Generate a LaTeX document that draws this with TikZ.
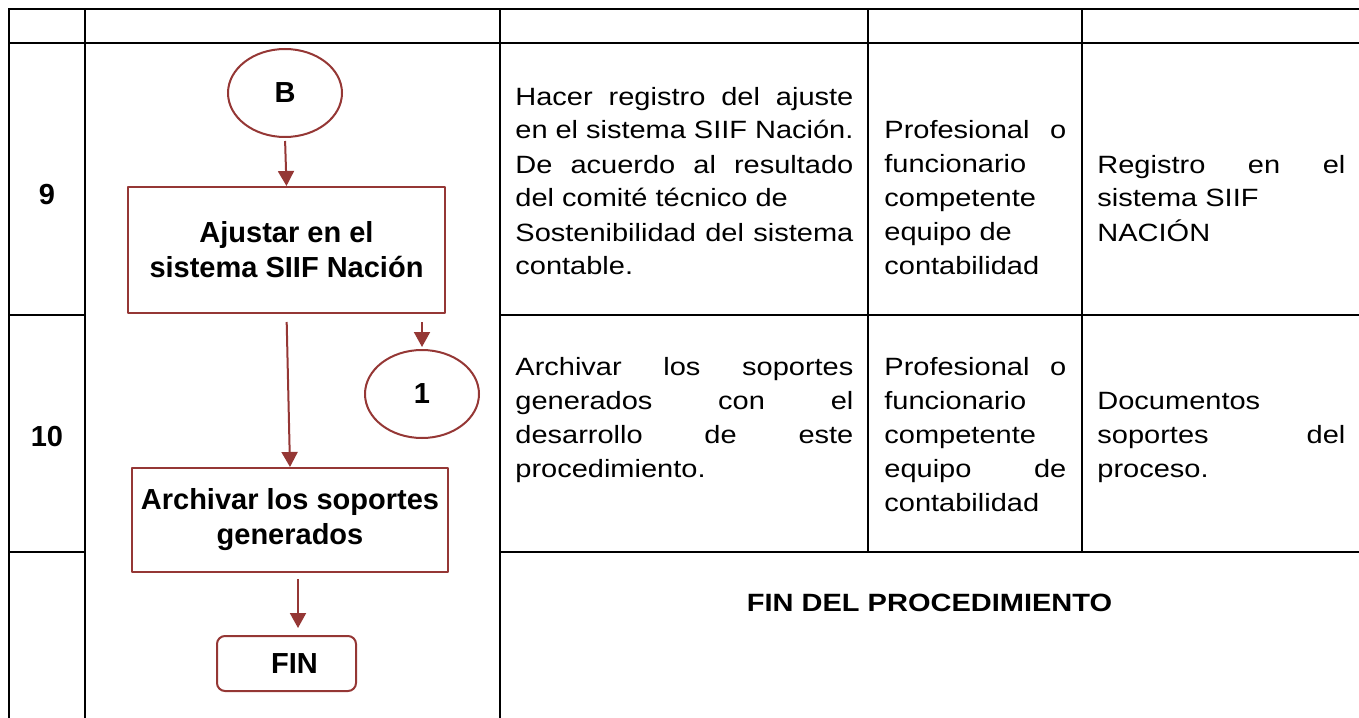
\documentclass[tikz,border=0pt]{standalone}
\usepackage{fontspec}
\setmainfont{Liberation Sans}
\newfontfamily\anchafont{Liberation Sans}[FakeStretch=1.16]
\usetikzlibrary{arrows.meta,shapes.geometric}
\definecolor{rojo}{RGB}{149,55,53}
\newcommand{\lj}[1]{{\spaceskip=0pt\xspaceskip=0pt\makebox[\linewidth][s]{#1}}}

\begin{document}
\begin{tikzpicture}[x=0.5pt, y=-0.5pt, line join=round, >={Triangle[width=8pt,length=7.5pt]},
	elipse/.style={ellipse, draw=rojo, line width=1pt, minimum width=57pt, minimum height=44pt, inner sep=0pt, font=\fontsize{14.5}{17.5}\selectfont\bfseries},
	caja/.style={rectangle, draw=rojo, line width=1pt, align=center, inner sep=0pt, font=\fontsize{14.5}{17.5}\selectfont\bfseries},
	flecha/.style={->, draw=rojo, line width=1pt},
	celda/.style={anchor=base west, inner sep=0pt, align=justify, font=\anchafont\fontsize{12.5}{17}\selectfont},
	numero/.style={font=\fontsize{14.5}{17.5}\selectfont\bfseries},
	linea/.style={line width=0.9pt, line cap=rect}]
		\useasboundingbox (0,0) rectangle (1359,717);
		% tabla
		\draw[linea] (9,9)--(1359,9) (9,43)--(1359,43) (9,315)--(85,315) (500,315)--(1359,315) (9,552)--(85,552) (500,552)--(1359,552);
		\foreach \x in {9,85,500} \draw[linea] (\x,9)--(\x,717);
		\foreach \x in {868,1082} \draw[linea] (\x,9)--(\x,552);
		\node[numero] (n9) at (47,195) {9};
		\node[numero] (n10) at (47,437) {10};
		% diagrama
		\node[elipse] (b) at (285,93) {B};
		\node[caja, minimum width=158.5pt, minimum height=63pt] (ajustar) at (286.5,250) {Ajustar en el\\sistema SIIF Nación};
		\node[elipse] (uno) at (422,394) {1};
		\node[caja, minimum width=158pt, minimum height=52pt] (archivar) at (290,520) {Archivar los soportes\\generados};
		\node[caja, rounded corners=4pt, minimum width=69.5pt, minimum height=27.5pt] (fin) at (286.5,663.5) {\hspace*{8pt}FIN};
		\draw[flecha, shorten <=1.5pt] (b.south)--(ajustar.north);
		\draw[flecha, shorten <=4pt] (ajustar.south)--(archivar.north);
		\draw[flecha, shorten <=4pt, shorten >=1pt] (ajustar.south -| uno.north)--(uno.north);
		\draw[flecha, shorten <=3pt, shorten >=3.5pt] ([xshift=4pt]archivar.south)--([xshift=5.75pt]fin.north);
		% textos
		\node[celda, text width=169pt] (act9) at (515,105) {\lj{Hacer registro del ajuste}\\\lj{en el sistema SIIF Nación.}\\\lj{De acuerdo al resultado}\\del comité técnico de\\\lj{Sostenibilidad del sistema}\\contable.};
		\node[celda, text width=91pt] (resp9) at (884,139) {\lj{Profesional o}\\funcionario\\competente\\equipo de\\contabilidad};
		\node[celda, text width=124pt] (reg9) at (1097,173) {\lj{Registro en el}\\sistema SIIF\\NACIÓN};
		\node[celda, text width=169pt] (act10) at (515,375) {\lj{Archivar los soportes}\\\lj{generados con el}\\\lj{desarrollo de este}\\procedimiento.};
		\node[celda, text width=91pt] (resp10) at (884,375) {\lj{Profesional o}\\funcionario\\competente\\\lj{equipo de}\\contabilidad};
		\node[celda, text width=124pt] (reg10) at (1097,409) {Documentos\\\lj{soportes del}\\proceso.};
		\node[font=\anchafont\fontsize{12.5}{15}\selectfont\bfseries] (findel) at (929.5,603) {FIN DEL PROCEDIMIENTO};
\end{tikzpicture}
\end{document}
